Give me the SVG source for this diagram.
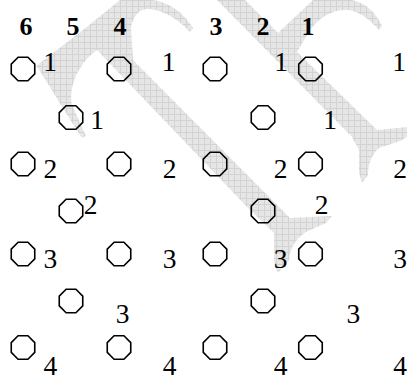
<svg xmlns="http://www.w3.org/2000/svg" xmlns:xlink="http://www.w3.org/1999/xlink" width="407" height="378" viewBox="0 0 407 378">
<style>
.oct{fill:none;stroke:#000;stroke-width:1.6}
.hd{font-family:"Liberation Serif","Times New Roman",serif;font-weight:bold;font-size:26px;text-anchor:middle;fill:#000}
.lb{font-family:"Liberation Serif","Times New Roman",serif;font-size:27.5px;text-anchor:middle;fill:#000}
.wm{fill:url(#hatch);stroke:none}
</style>
<defs>
<pattern id="hatch" width="6" height="6" patternUnits="userSpaceOnUse">
<rect width="6" height="6" fill="#e6e6e6"/>
<path d="M0 0.5H6M0.5 0V6" stroke="#d3d3d3" stroke-width="1"/>
</pattern>
<polygon id="oct" class="oct" points="-4.9,-11.75 4.9,-11.75 11.75,-4.9 11.75,4.9 4.9,11.75 -4.9,11.75 -11.75,4.9 -11.75,-4.9"/>
</defs>
<rect width="407" height="378" fill="#fff"/>
<g id="watermark">
<path class="wm" d="M36,66 L83,30 L120,0 L150,0 C168,1 183,12 193,28 L190,32 C180,21 166,11 150,9 C140,8 133,15 131,28 L133,60 L290,218 L332,216 L326,223 L306,232 C294,240 290,250 289,260 L278,273 L274,262 L274,233 L250,210 L97,50 C80,62 68,85 72,105 L86,136 L82,138 C70,120 55,95 38,68 Z"/>
<path class="wm" d="M217,0 L245,0 L278,33 L313,0 L352,0 C366,3 376,13 382,26 L379,30 C370,20 360,11 348,10 C334,9 320,16 310,30 L297,52 L377,130 L407,127 L407,137 L400,141 L379,148 C371,155 368,165 368,175 L362,183 L359,172 L359,150 L352,137 Z"/>
</g>
<g id="connectors"/>
<g id="header">
<text class="hd" x="26" y="35">6</text>
<text class="hd" x="73" y="35">5</text>
<text class="hd" x="120" y="35">4</text>
<text class="hd" x="216" y="35">3</text>
<text class="hd" x="263" y="35">2</text>
<text class="hd" x="308" y="35">1</text>
</g>
<g id="nodes">
<g id="n-r1-c1"><use xlink:href="#oct" x="23" y="69"/></g>
<g id="n-r1-c2"><use xlink:href="#oct" x="119" y="69"/></g>
<g id="n-r1-c3"><use xlink:href="#oct" x="215" y="69"/></g>
<g id="n-r1-c4"><use xlink:href="#oct" x="310.5" y="69"/></g>
<g id="n-r2-c1"><use xlink:href="#oct" x="71" y="117.5"/></g>
<g id="n-r2-c2"><use xlink:href="#oct" x="263" y="117.5"/></g>
<g id="n-r3-c1"><use xlink:href="#oct" x="23" y="164"/></g>
<g id="n-r3-c2"><use xlink:href="#oct" x="119" y="164"/></g>
<g id="n-r3-c3"><use xlink:href="#oct" x="215" y="164"/></g>
<g id="n-r3-c4"><use xlink:href="#oct" x="310.5" y="164"/></g>
<g id="n-r4-c1"><use xlink:href="#oct" x="71" y="211"/></g>
<g id="n-r4-c2"><use xlink:href="#oct" x="263" y="211"/></g>
<g id="n-r5-c1"><use xlink:href="#oct" x="23" y="254"/></g>
<g id="n-r5-c2"><use xlink:href="#oct" x="119" y="254"/></g>
<g id="n-r5-c3"><use xlink:href="#oct" x="215" y="254"/></g>
<g id="n-r5-c4"><use xlink:href="#oct" x="310.5" y="254"/></g>
<g id="n-r6-c1"><use xlink:href="#oct" x="71" y="301"/></g>
<g id="n-r6-c2"><use xlink:href="#oct" x="263" y="301"/></g>
<g id="n-r7-c1"><use xlink:href="#oct" x="23" y="347.5"/></g>
<g id="n-r7-c2"><use xlink:href="#oct" x="119" y="347.5"/></g>
<g id="n-r7-c3"><use xlink:href="#oct" x="215" y="347.5"/></g>
<g id="n-r7-c4"><use xlink:href="#oct" x="310.5" y="347.5"/></g>
</g>
<g id="labels">
<text class="lb" x="50" y="71">1</text>
<text class="lb" x="168.5" y="71">1</text>
<text class="lb" x="281" y="71">1</text>
<text class="lb" x="399" y="71">1</text>
<text class="lb" x="97" y="129">1</text>
<text class="lb" x="330" y="129">1</text>
<text class="lb" x="50.3" y="178.3">2</text>
<text class="lb" x="169.7" y="178.3">2</text>
<text class="lb" x="280.7" y="178.3">2</text>
<text class="lb" x="400" y="178.3">2</text>
<text class="lb" x="90.7" y="214">2</text>
<text class="lb" x="321.7" y="214">2</text>
<text class="lb" x="50.3" y="268.3">3</text>
<text class="lb" x="169.7" y="268.3">3</text>
<text class="lb" x="280.7" y="268.3">3</text>
<text class="lb" x="400" y="268.3">3</text>
<text class="lb" x="122.7" y="322.7">3</text>
<text class="lb" x="353.3" y="322.7">3</text>
<text class="lb" x="50.3" y="374.5">4</text>
<text class="lb" x="169.7" y="374.5">4</text>
<text class="lb" x="280.7" y="374.5">4</text>
<text class="lb" x="400" y="374.5">4</text>
</g>
</svg>
